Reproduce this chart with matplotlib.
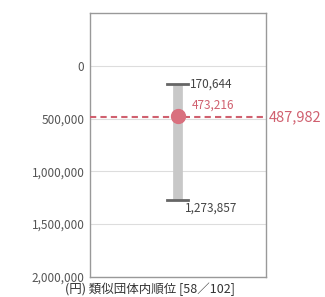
import matplotlib.pyplot as plt
from matplotlib.ticker import FuncFormatter

plt.rcParams['font.family'] = ['Noto Sans CJK JP', 'DejaVu Sans']

# 類似団体の最小・最大・平均、当該団体の値
val_min = 170644
val_max = 1273857
val_avg = 473216
val_self = 487982
rank_label = '(円) 類似団体内順位 [58／102]'
yticks = [0, 500000, 1000000, 1500000, 2000000]

gray_txt = '#555555'
red = '#d0606f'

fig = plt.figure(figsize=(3.25, 2.97), dpi=100)
ax = fig.add_axes([0.277, 0.068, 0.541, 0.888])

# range bar with caps
ax.plot([0.5, 0.5], [val_min, val_max], color='#c8c8c8', lw=7, solid_capstyle='butt', zorder=2)
for v in (val_min, val_max):
    ax.plot([0.44, 0.56], [v, v], color='#666666', lw=2, zorder=3)

ax.axhline(val_self, color=red, ls=(0, (3, 2)), lw=1.5, zorder=4)
ax.plot([0.5], [val_avg], marker='o', ms=10, color='#d9707e', zorder=5)

ax.text(0.57, val_min, f'{val_min:,}', color='#444444', fontsize=8.5, va='center', ha='left')
ax.text(0.54, val_max + 75000, f'{val_max:,}', color='#444444', fontsize=8.5, va='center', ha='left')
ax.text(0.58, val_avg - 40000, f'{val_avg:,}', color=red, fontsize=8.5, va='bottom', ha='left')
ax.text(1.015, val_self, f'{val_self:,}', color=red, fontsize=10.5, va='center', ha='left',
        transform=ax.get_yaxis_transform(), clip_on=False)

ax.set_xlim(0, 1)
ax.set_ylim(2000000, -500000)
ax.set_yticks(yticks)
ax.yaxis.set_major_formatter(FuncFormatter(lambda v, p: f'{int(v):,}'))
ax.set_xticks([])
ax.tick_params(axis='y', length=0, labelsize=8.5, labelcolor=gray_txt, pad=4)
ax.grid(axis='y', color='#dddddd', lw=0.8, zorder=0)
for s in ax.spines.values():
    s.set_color('#999999')
    s.set_linewidth(1)

fig.text(0.2, 0.004, rank_label, fontsize=9, color='#333333', ha='left', va='bottom')

fig.savefig('out.png', dpi=100)
